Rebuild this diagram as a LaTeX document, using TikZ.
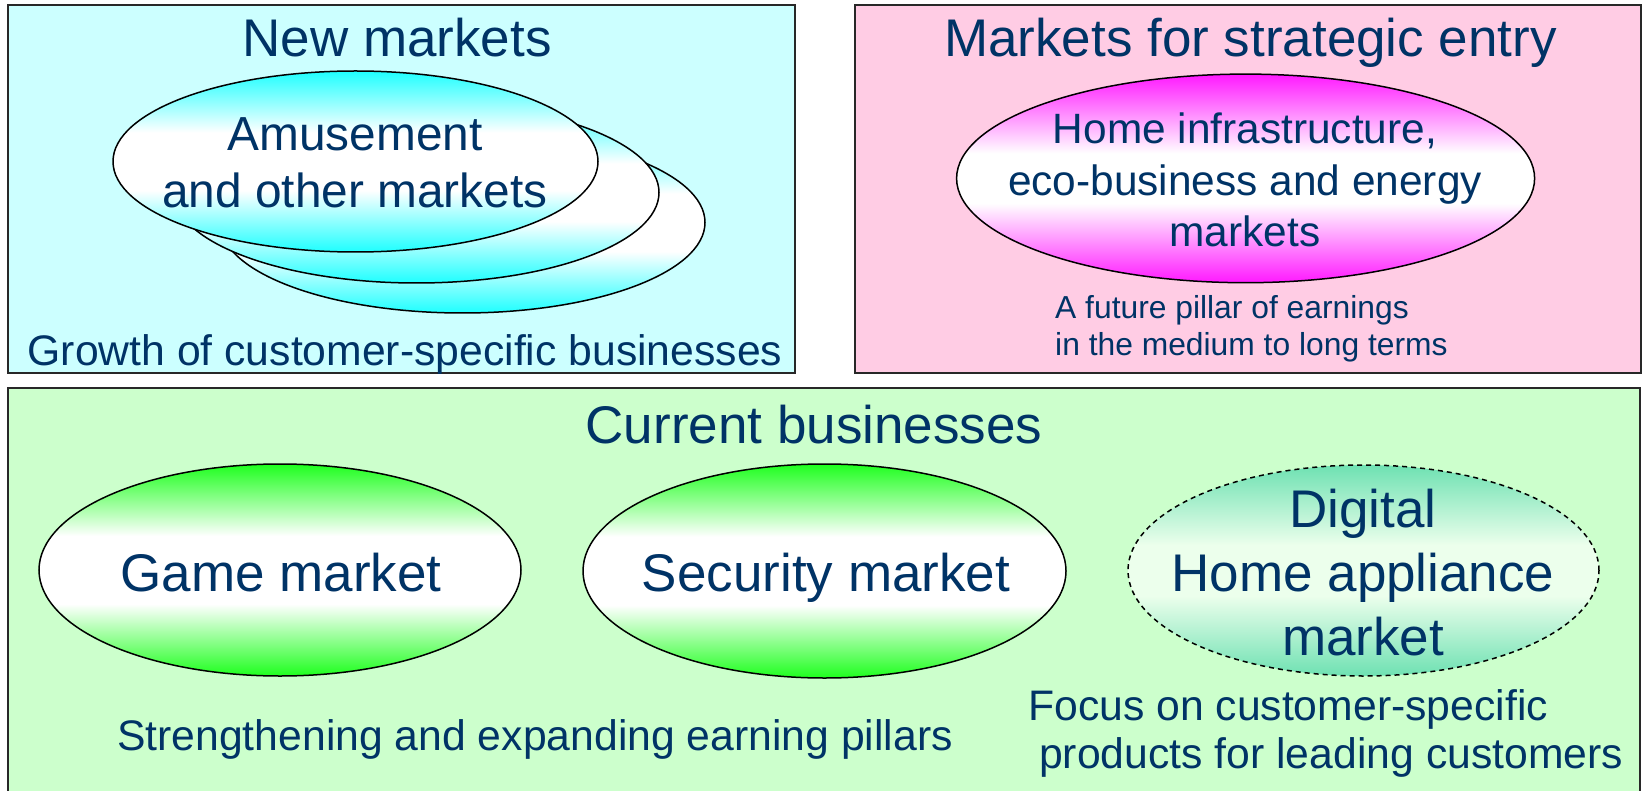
\documentclass[tikz,border=0pt]{standalone}
\usepackage{fontspec}
\setmainfont{Liberation Sans}
\usetikzlibrary{shapes.geometric}
\definecolor{txt}{RGB}{0,51,102}
\definecolor{cyanbox}{RGB}{204,255,255}
\definecolor{pinkbox}{RGB}{255,204,228}
\definecolor{greenbox}{RGB}{204,255,204}
\definecolor{cyanE}{RGB}{30,255,255}
\definecolor{magE}{RGB}{255,25,255}
\definecolor{greenE}{RGB}{30,255,30}
\definecolor{tealE}{RGB}{110,225,178}
\definecolor{tealM}{RGB}{236,255,236}
\definecolor{boxline}{RGB}{40,40,40}
\pgfdeclareverticalshading{cyanshade}{100bp}{color(0bp)=(cyanE); color(25bp)=(cyanE); color(42bp)=(white); color(58bp)=(white); color(75bp)=(cyanE); color(100bp)=(cyanE)}
\pgfdeclareverticalshading{magshade}{100bp}{color(0bp)=(magE); color(25bp)=(magE); color(44bp)=(white); color(56bp)=(white); color(75bp)=(magE); color(100bp)=(magE)}
\pgfdeclareverticalshading{greenshade}{100bp}{color(0bp)=(greenE); color(25bp)=(greenE); color(42bp)=(white); color(58bp)=(white); color(75bp)=(greenE); color(100bp)=(greenE)}
\pgfdeclareverticalshading{tealshade}{100bp}{color(0bp)=(tealE); color(25bp)=(tealE); color(44bp)=(tealM); color(56bp)=(tealM); color(75bp)=(tealE); color(100bp)=(tealE)}
\tikzset{
  areabox/.style={draw=boxline, line width=2pt},
  oval/.style={ellipse, draw=black, line width=1.5pt, inner sep=0pt},
  lbl/.style={text=txt, inner sep=0pt, anchor=base, align=center},
  ttl/.style={lbl, font=\fontsize{53}{63}\selectfont},
  big/.style={lbl, font=\fontsize{53}{64}\selectfont},
  note/.style={lbl, font=\fontsize{42.7}{48}\selectfont},
}
\begin{document}
\begin{tikzpicture}[x=1pt,y=-1pt]
\useasboundingbox (0,0) rectangle (1645,791);
% area boxes
\fill[white] (0,0) rectangle (1645,791);
\node[areabox, fill=cyanbox, minimum width=787pt, minimum height=368pt, inner sep=0pt] (newbox) at (401.35,189) {};
\node[areabox, fill=pinkbox, minimum width=786pt, minimum height=368pt, inner sep=0pt] (stratbox) at (1248,189) {};
\fill[greenbox] (8,388) rectangle (1640,791);
\draw[draw=boxline, line width=2pt] (8,800) coordinate (gbl) -- (8,388) coordinate (gtl) -- (1640,388) coordinate (gtr) -- (1640,800) coordinate (gbr);
% titles
\node[ttl] (t1) at (397,56.7) {New markets};
\node[ttl] (t2) at (1250.5,56.7) {Markets for strategic entry};
\node[ttl] (t3) at (814,443) {Current businesses};
% new markets ellipses
\node[oval, shade, shading=cyanshade, minimum width=485pt, minimum height=181pt] (c3) at (462.5,222.5) {};
\node[oval, shade, shading=cyanshade, minimum width=485pt, minimum height=181pt] (c2) at (416.5,192.5) {};
\node[oval, shade, shading=cyanshade, minimum width=485pt, minimum height=181pt] (c1) at (355.5,161.5) {};
\node[lbl, font=\fontsize{47.8}{56.5}\selectfont] (amuse) at (355,207.5) {Amusement\\and other markets};
\node[note] (growth) at (405,365) {Growth of customer-specific businesses};
% strategic entry
\node[oval, shade, shading=magshade, minimum width=578pt, minimum height=208.6pt] (pinkov) at (1245.6,178.4) {};
\node[lbl, font=\fontsize{42.4}{51.7}\selectfont] (home) at (1245,246.9) {Home infrastructure,\\eco-business and energy\\markets};
\node[lbl, anchor=base west, align=left, font=\fontsize{31.8}{36.7}\selectfont] (future) at (1055,355) {A future pillar of earnings\\in the medium to long terms};
% current businesses
\node[oval, shade, shading=greenshade, minimum width=482pt, minimum height=212pt] (game) at (280,570) {};
\node[oval, shade, shading=greenshade, minimum width=483pt, minimum height=214pt] (sec) at (824.5,571) {};
\node[oval, dashed, dash pattern=on 5pt off 4pt, shade, shading=tealshade, minimum width=471pt, minimum height=211pt] (digi) at (1363.5,570.5) {};
\node[big] (gamet) at (281,591) {Game market};
\node[big] (sect) at (826,591) {Security market};
\node[big] (digit) at (1363,655) {Digital\\Home appliance\\market};
\node[note] (streng) at (535,750) {Strengthening and expanding earning pillars};
\node[note, anchor=base west, align=left] (focus) at (1028,768) {Focus on customer-specific\\\hspace*{11pt}products for leading customers};
\end{tikzpicture}
\end{document}
